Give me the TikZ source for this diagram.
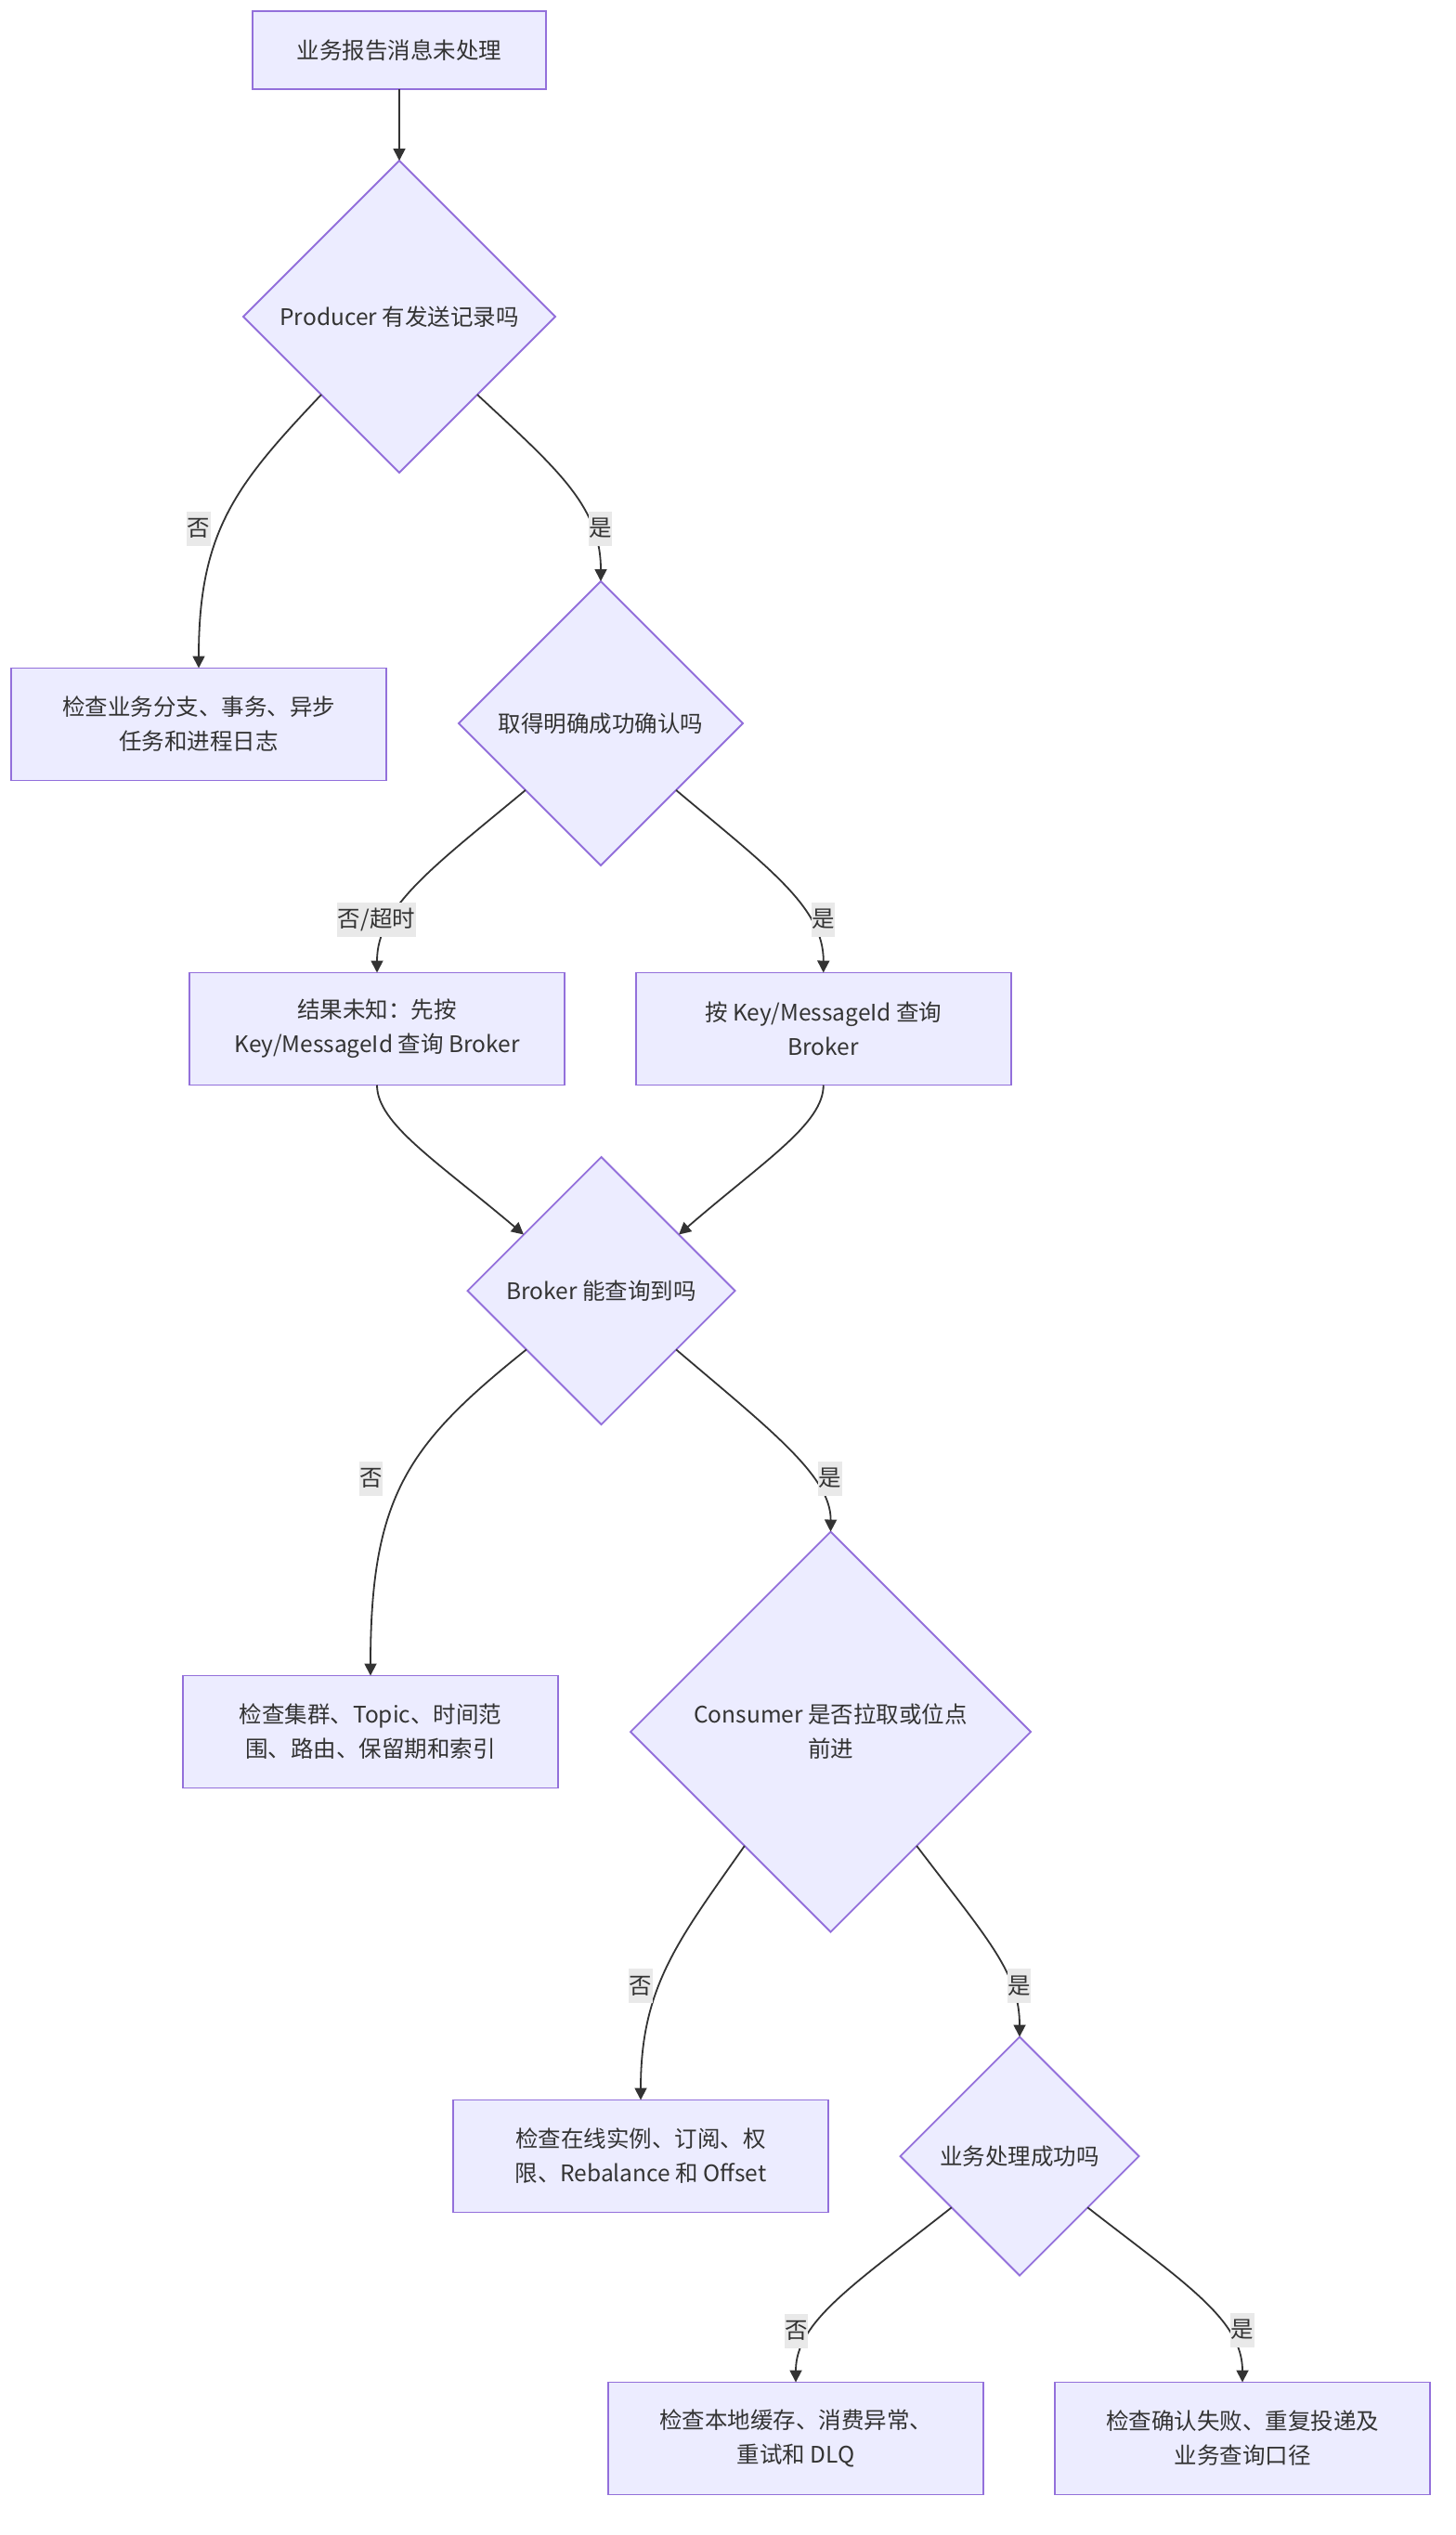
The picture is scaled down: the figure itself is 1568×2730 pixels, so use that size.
\documentclass[tikz,border=0pt]{standalone}
\usepackage{fontspec}
\newfontfamily\cjk{Noto Sans CJK SC}
\usetikzlibrary{shapes.geometric,arrows.meta,calc}
\definecolor{nodefill}{HTML}{ECECFF}
\definecolor{nodeline}{HTML}{9370DB}
\definecolor{edgecol}{HTML}{333333}
\definecolor{txtcol}{HTML}{333333}
\definecolor{lblbg}{HTML}{E9E9E9}
\tikzset{
  basefont/.style={font=\cjk\fontsize{24.5pt}{37pt}\selectfont, text=txtcol},
  box/.style={basefont, rectangle, draw=nodeline, fill=nodefill, line width=1.8pt,
    minimum width=404pt, minimum height=121pt, inner sep=0pt, outer sep=0pt, align=center},
  decision/.style={basefont, diamond, aspect=1, draw=nodeline, fill=nodefill, line width=1.8pt,
    inner sep=0pt, outer sep=0pt, align=center},
  edge/.style={draw=edgecol, line width=1.8pt, -{Triangle[length=13pt,width=13pt]}},
  elabel/.style={basefont, fill=lblbg, inner xsep=0.5pt, inner ysep=0pt, minimum height=37pt}
}
\begin{document}
\begin{tikzpicture}[x=1pt,y=-1pt]
\fill[white] (0,0) rectangle (1568,2730);
\useasboundingbox (0,0) rectangle (1568,2730);

% nodes
\node[box, minimum width=316pt, minimum height=84pt] (A) at (430,54) {业务报告消息未处理};
\node[decision, minimum width=336pt, minimum height=336pt] (B) at (430,341) {Producer 有发送记录吗};
\node[box] (C) at (214,780) {检查业务分支、事务、异步\\任务和进程日志};
\node[decision, minimum width=306pt, minimum height=306pt] (D) at (647,779) {取得明确成功确认吗};
\node[box] (E) at (406,1108) {结果未知：先按\\Key/MessageId 查询 Broker};
\node[box] (F) at (886.75,1108) {按 Key/MessageId 查询\\Broker};
\node[decision, minimum width=288pt, minimum height=288pt] (G) at (647.5,1390) {Broker 能查询到吗};
\node[box] (H) at (399,1865) {检查集群、Topic、时间范\\围、路由、保留期和索引};
\node[decision, minimum width=431pt, minimum height=431pt] (I) at (894.5,1865) {Consumer 是否拉取或位点\\前进};
\node[box] (J) at (690,2322) {检查在线实例、订阅、权\\限、Rebalance 和 Offset};
\node[decision, minimum width=257pt, minimum height=257pt] (K) at (1098,2322) {业务处理成功吗};
\node[box] (L) at (857,2626) {检查本地缓存、消费异常、\\重试和 DLQ};
\node[box] (M) at (1338,2626) {检查确认失败、重复投递及\\业务查询口径};

% edges
\draw[edge] (A.south) -- (B.north);
\draw[edge] (B.south west) .. controls (254,522) and (214,572) .. (C.north);
\draw[edge] (B.south east) .. controls (600,505) and (647,545) .. (D.north);
\draw[edge] ($(D.west)!0.47!(D.south)$) .. controls (466,934) and (406,977) .. (E.north);
\draw[edge] ($(D.east)!0.47!(D.south)$) .. controls (827,934) and (887,977) .. (F.north);
\draw[edge] (E.south) .. controls (406,1210) and (470,1250) .. ($(G.west)!0.42!(G.north)$);
\draw[edge] (F.south) .. controls (887,1210) and (823,1250) .. ($(G.east)!0.42!(G.north)$);
\draw[edge] ($(G.west)!0.44!(G.south)$) .. controls (440,1555) and (399,1610) .. (H.north);
\draw[edge] ($(G.east)!0.44!(G.south)$) .. controls (830,1540) and (895,1590) .. (I.north);
\draw[edge] ($(I.west)!0.57!(I.south)$) .. controls (730,2090) and (690,2140) .. (J.north);
\draw[edge] ($(I.east)!0.57!(I.south)$) .. controls (1065,2090) and (1098,2125) .. (K.north);
\draw[edge] ($(K.west)!0.43!(K.south)$) .. controls (920,2460) and (857,2500) .. (L.north);
\draw[edge] ($(K.east)!0.43!(K.south)$) .. controls (1275,2458) and (1338,2498) .. (M.north);

% edge labels
\node[elabel] (l1) at (214,569) {否};
\node[elabel] (l2) at (646.5,569) {是};
\node[elabel] (l3) at (405.5,990) {否/超时};
\node[elabel] (l4) at (886.5,990) {是};
\node[elabel] (l5) at (399.5,1592) {否};
\node[elabel] (l6) at (894,1592) {是};
\node[elabel] (l7) at (690,2138.5) {否};
\node[elabel] (l8) at (1097.5,2138.5) {是};
\node[elabel] (l9) at (857.5,2510) {否};
\node[elabel] (l10) at (1338,2509) {是};
\end{tikzpicture}
\end{document}
